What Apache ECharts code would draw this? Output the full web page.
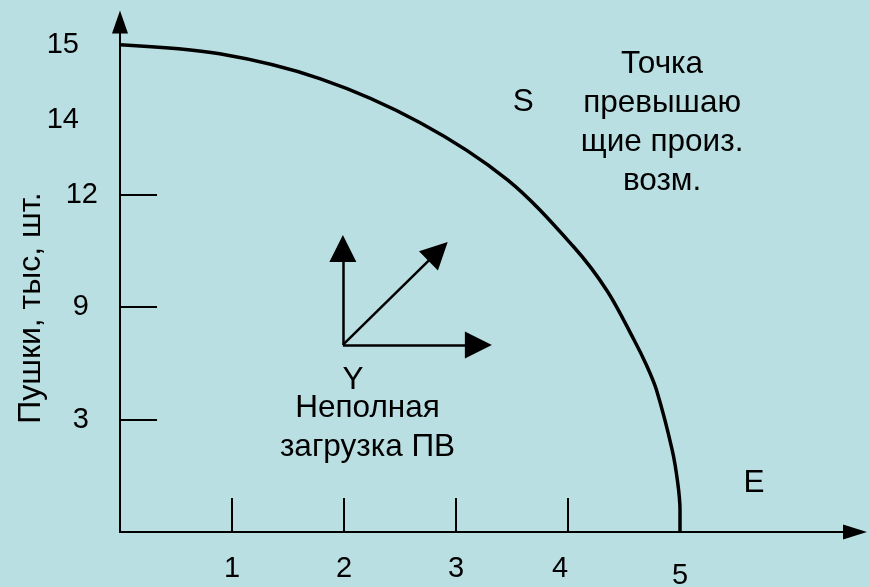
<!DOCTYPE html>
<html>
<head>
<meta charset="utf-8">
<title>Кривая производственных возможностей</title>
<script src="https://cdn.jsdelivr.net/npm/echarts@6/dist/echarts.min.js"></script>
<style>
    html, body { margin: 0; padding: 0; background: #badfe2; }
    #chart { width: 870px; height: 587px; }
</style>
</head>
<body>
<div id="chart"></div>
<script>
// кривая: по оси X — ед. второго товара, по Y — пушки, тыс. шт.
const curveX = [0, 0.89, 1.79, 2.68, 3.46, 4.05, 4.35, 4.59, 4.70, 4.79, 4.93, 4.98, 5.0, 5.0];
const curveY = [15, 14.72, 13.95, 12.6, 10.84, 8.78, 7.42, 5.91, 5.14, 4.37, 2.53, 1.51, 0.68, 0];

const xTickLabels = ['1', '2', '3', '4', '5'];
const xTickAt = [1, 2, 3, 4, 5];
const xTickMarks = [1, 2, 3, 4];

// подписи оси Y стоят в картинке не по линейной шкале
const yTickLabels = ['3', '9', '12', '14', '15'];
const yTickAt = [3.45, 6.93, 10.38, 12.69, 15];
const yTickMarks = [3.45, 6.93, 10.38];

const noteTexts = ['S', 'Точка\nпревышаю\nщие произ.\nвозм.', 'Y', 'Неполная\nзагрузка ПВ', 'E'];
const noteX = [3.6, 4.84, 2.08, 2.21, 5.66];
const noteY = [13.24, 12.6, 4.68, 3.2, 1.51];

// стрелки из точки Y
const vecFrom = [1.99, 5.76];
const vecToX = [1.99, 2.84, 3.2];
const vecToY = [8.73, 8.64, 5.76];

const FONT = "'Liberation Sans', Arial, sans-serif";

const yLabelStyle = { '3': 'mid', '9': 'mid', '12': 'near', '14': 'far', '15': 'far' };
const xLabelStyle = { '1': 'n', '2': 'n', '3': 'n', '4': 'left', '5': 'low' };

const chart = echarts.init(document.getElementById('chart'), null, { renderer: 'canvas' });

const option = {
    backgroundColor: '#badfe2',
    animation: false,
    grid: {
        left: 120,
        right: 15,
        top: 22,
        bottom: 55,
        containLabel: false,
        outerBoundsMode: 'none',
    },
    xAxis: {
        type: 'value',
        min: 0,
        max: 6.5625,
        splitLine: { show: false },
        axisLine: {
            show: true,
            symbol: ['none', 'triangle'],
            symbolSize: [15, 24],
            lineStyle: { color: '#000', width: 2 },
        },
        axisTick: {
            show: true,
            inside: true,
            length: 34,
            customValues: xTickMarks,
            lineStyle: { color: '#000', width: 2 },
        },
        axisLabel: {
            customValues: xTickAt,
            margin: 22,
            color: '#000',
            fontFamily: FONT,
            fontSize: 29,
            formatter: function (v) {
                const i = xTickAt.indexOf(v);
                const t = i >= 0 ? xTickLabels[i] : '';
                return '{' + (xLabelStyle[t] || 'n') + '|' + t + '}';
            },
            rich: {
                n: { fontFamily: FONT, fontSize: 29, color: '#000' },
                left: { fontFamily: FONT, fontSize: 29, color: '#000', padding: [0, 16, 0, 0] },
                low: { fontFamily: FONT, fontSize: 29, color: '#000', padding: [7, 0, 0, 0] },
            },
        },
    },
    yAxis: {
        type: 'value',
        min: 0,
        max: 15.7,
        name: 'Пушки, тыс, шт.',
        nameLocation: 'middle',
        nameGap: 73,
        nameMoveOverlap: false,
        nameTextStyle: {
            color: '#000',
            fontFamily: FONT,
            fontSize: 32,
            padding: [0, 62, 0, 0],
        },
        splitLine: { show: false },
        axisLine: {
            show: true,
            symbol: ['none', 'triangle'],
            symbolSize: [16, 23],
            lineStyle: { color: '#000', width: 2 },
        },
        axisTick: {
            show: true,
            inside: true,
            length: 37,
            customValues: yTickMarks,
            lineStyle: { color: '#000', width: 2 },
        },
        axisLabel: {
            customValues: yTickAt,
            margin: 22,
            color: '#000',
            fontFamily: FONT,
            fontSize: 29,
            formatter: function (v) {
                const i = yTickAt.indexOf(v);
                const t = i >= 0 ? yTickLabels[i] : '';
                return '{' + (yLabelStyle[t] || 'near') + '|' + t + '}';
            },
            rich: {
                near: { fontFamily: FONT, fontSize: 29, color: '#000' },
                mid: { fontFamily: FONT, fontSize: 29, color: '#000', padding: [0, 9, 0, 0] },
                far: { fontFamily: FONT, fontSize: 29, color: '#000', padding: [0, 19, 0, 0] },
            },
        },
    },
    series: [
        {
            name: 'КПВ',
            type: 'line',
            data: curveX.map((x, i) => [x, curveY[i]]),
            smooth: 0.33,
            showSymbol: false,
            silent: true,
            lineStyle: { color: '#000', width: 3.5 },
        },
        {
            name: 'векторы',
            type: 'lines',
            coordinateSystem: 'cartesian2d',
            silent: true,
            symbol: ['none', 'triangle'],
            symbolSize: [18, 27],
            lineStyle: { color: '#000', width: 2.5, opacity: 1, curveness: 0 },
            data: vecToX.map((x, i) => ({ coords: [vecFrom, [x, vecToY[i]]] })),
        },
        {
            name: 'подписи',
            type: 'scatter',
            symbolSize: 0,
            silent: true,
            itemStyle: { opacity: 1 },
            label: {
                show: true,
                position: 'inside',
                color: '#000',
                opacity: 1,
                fontFamily: FONT,
                fontSize: 31.5,
                lineHeight: 39,
                align: 'center',
                formatter: (p) => p.name,
            },
            data: noteTexts.map((t, i) => ({ name: t, value: [noteX[i], noteY[i]] })),
        },
    ],
};

chart.setOption(option);
</script>
</body>
</html>
